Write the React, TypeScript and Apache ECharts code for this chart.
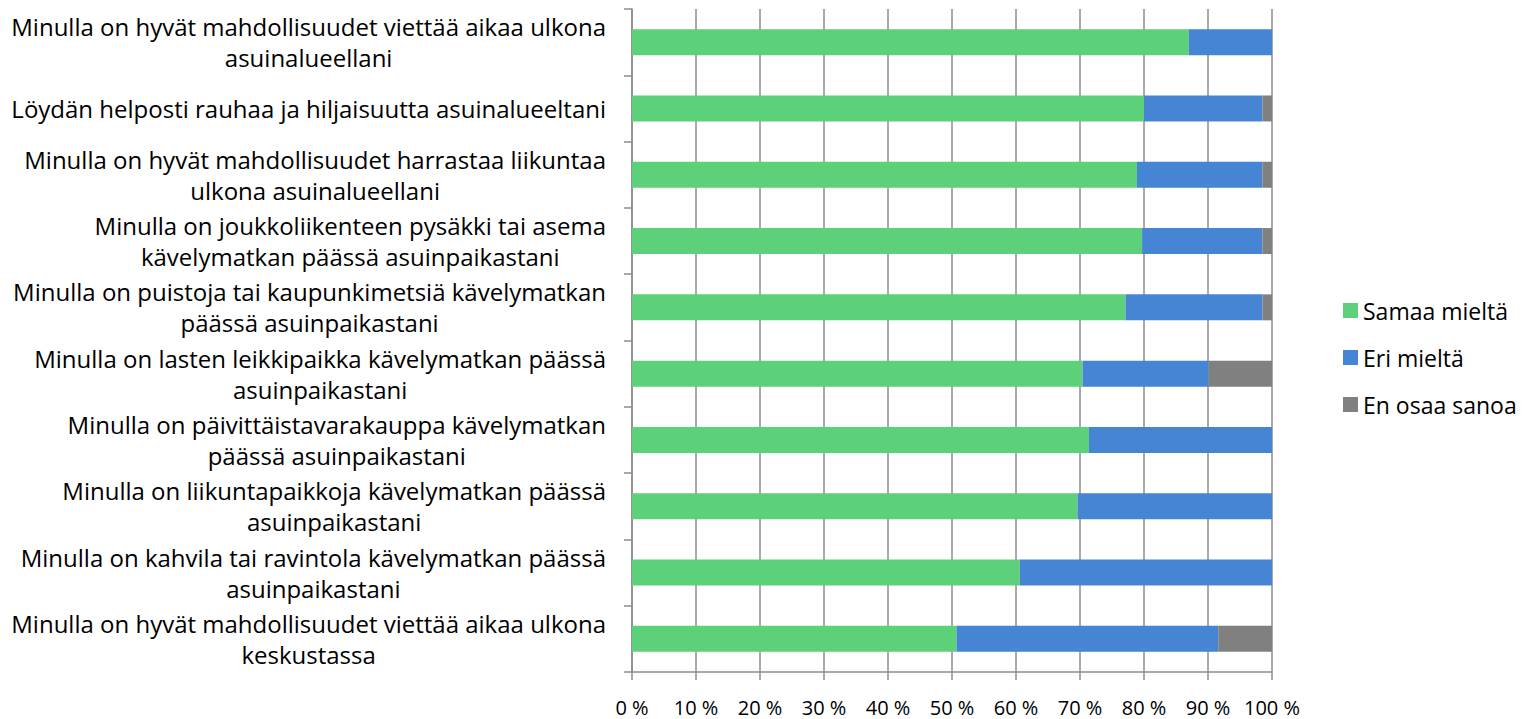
import React, { useEffect, useRef } from "react";
import * as echarts from "echarts";

const categories = [
  "Minulla on hyvät mahdollisuudet viettää aikaa ulkona\nasuinalueellani",
  "Löydän helposti rauhaa ja hiljaisuutta asuinalueeltani",
  "Minulla on hyvät mahdollisuudet harrastaa liikuntaa\nulkona asuinalueellani",
  "Minulla on joukkoliikenteen pysäkki tai asema\nkävelymatkan päässä asuinpaikastani",
  "Minulla on puistoja tai kaupunkimetsiä kävelymatkan\npäässä asuinpaikastani",
  "Minulla on lasten leikkipaikka kävelymatkan päässä\nasuinpaikastani",
  "Minulla on päivittäistavarakauppa kävelymatkan\npäässä asuinpaikastani",
  "Minulla on liikuntapaikkoja kävelymatkan päässä\nasuinpaikastani",
  "Minulla on kahvila tai ravintola kävelymatkan päässä\nasuinpaikastani",
  "Minulla on hyvät mahdollisuudet viettää aikaa ulkona\nkeskustassa",
];

const samaaMielta = [87.0, 80.0, 78.9, 79.7, 77.1, 70.4, 71.4, 69.6, 60.6, 50.7];
const eriMielta = [13.0, 18.5, 19.6, 18.8, 21.4, 19.7, 28.6, 30.4, 39.4, 40.9];
const enOsaaSanoa = [0, 1.5, 1.5, 1.5, 1.5, 9.9, 0, 0, 0, 8.4];

const seriesNames = ["Samaa mieltä", "Eri mieltä", "En osaa sanoa"];
const colors = ["#5cd17a", "#4685d4", "#808080"];

const FONT = "'Open Sans', sans-serif";

export default function App() {
  const ref = useRef<HTMLDivElement>(null);
  useEffect(() => {
    if (!ref.current) return;
    const chart = echarts.init(ref.current, undefined, { renderer: "svg" });
    const data = [samaaMielta, eriMielta, enOsaaSanoa];
    chart.setOption({
      animation: false,
      textStyle: { fontFamily: FONT },
      grid: { left: 632, right: 260, top: 9, bottom: 47, containLabel: false },
      legend: {
        orient: "vertical",
        left: 1343,
        top: 299,
        padding: 0,
        itemWidth: 15,
        itemHeight: 15,
        itemGap: 24,
        icon: "rect",
        textStyle: { fontSize: 23, color: "#000", fontFamily: FONT },
        data: seriesNames,
      },
      xAxis: {
        type: "value",
        min: 0,
        max: 100,
        interval: 10,
        axisLine: { show: true, lineStyle: { color: "#8c8c8c", width: 1.5 } },
        axisTick: { show: true, length: 8, lineStyle: { color: "#8c8c8c", width: 1.5 } },
        splitLine: { show: true, lineStyle: { color: "#8c8c8c", width: 1.5 } },
        axisLabel: {
          formatter: "{value} %",
          fontSize: 20,
          color: "#000",
          margin: 25,
          fontFamily: FONT,
        },
      },
      yAxis: {
        type: "category",
        inverse: true,
        data: categories,
        axisLine: { show: true, lineStyle: { color: "#8c8c8c", width: 1.5 } },
        axisTick: { show: true, length: 8, lineStyle: { color: "#8c8c8c", width: 1.5 } },
        axisLabel: {
          margin: 26,
          align: "right",
          formatter: (v: string) =>
            v
              .split("\n")
              .map((l) => `{c|${l}}`)
              .join("\n"),
          rich: {
            c: {
              align: "center",
              fontSize: 24,
              lineHeight: 31,
              color: "#000",
              fontFamily: FONT,
            },
          },
        },
      },
      series: seriesNames.map((name, i) => ({
        name,
        type: "bar",
        stack: "total",
        barWidth: 26,
        itemStyle: { color: colors[i] },
        data: data[i],
      })),
    });
    return () => chart.dispose();
  }, []);
  return (
    <div
      ref={ref}
      style={{ position: "fixed", left: 0, top: 0, width: 1532, height: 719, background: "#fff" }}
    />
  );
}
